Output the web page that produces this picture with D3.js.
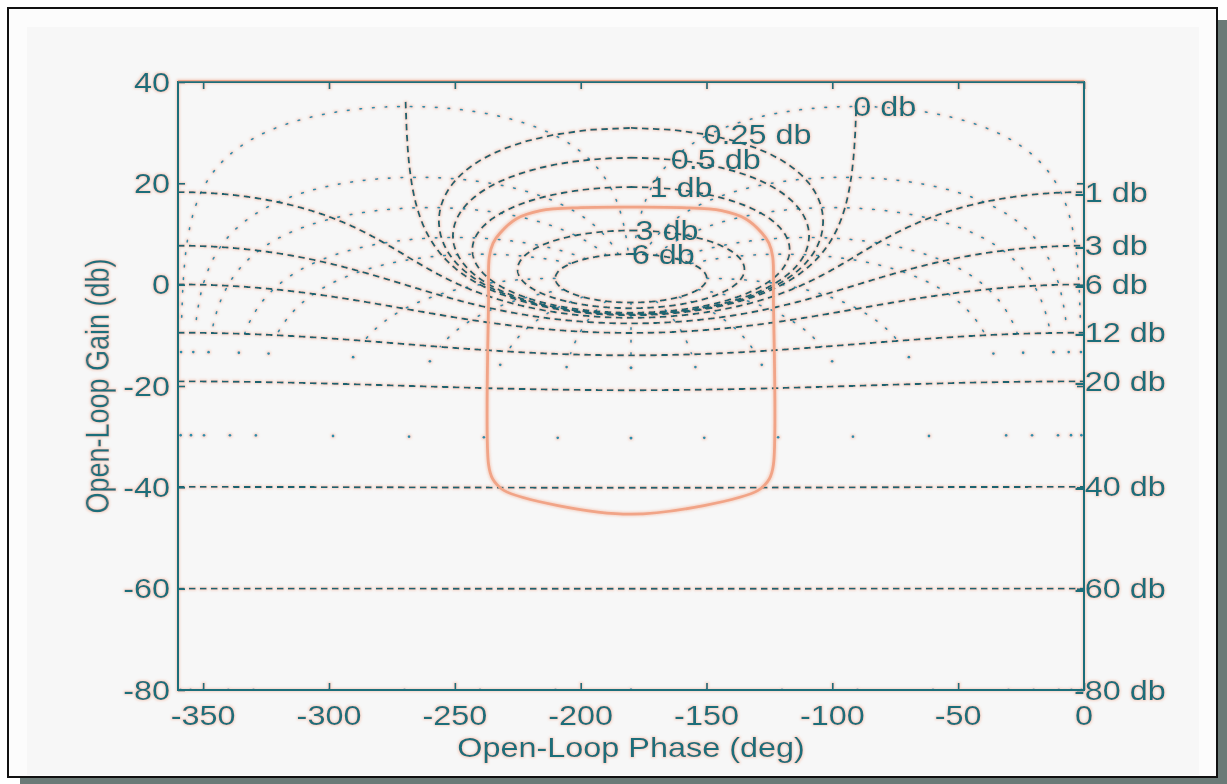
<!DOCTYPE html>
<html>
<head>
<meta charset="utf-8">
<script src="https://cdn.jsdelivr.net/npm/d3@7"></script>
<style>
  body { margin: 0; background: #ffffff; }
  svg { display: block; }
</style>
</head>
<body>
<script>
// ---- Nichols chart data ----
// closed-loop magnitude contours (dB), drawn dashed
const magLevels = [6, 3, 1, 0.5, 0.25, 0, -1, -3, -6, -12, -20, -40, -60, -80];
// closed-loop phase contours (deg), drawn dotted on both sides of -180
const phaseLevels = [1, 5, 10, 20, 30, 60, 90, 120, 150, 180];
// closed-loop magnitude span (dB) covered by the dotted phase contours
const phaseCurveMaxDb = 6;
const phaseCurveMinDb = -12;
// closed-loop magnitudes (dB) where the phase contours are marked by single dots
const phaseDotDb = [-15, -30, -80];

// labels placed on the upper part of the closed contours
const innerLabelDb = [6, 3, 1, 0.5, 0.25, 0];
const innerLabelPhase = [-178.5, -177, -171.5, -163, -150, -90.5];
const innerLabelText = ["6 db", "3 db", "1 db", "0.5 db", "0.25 db", "0 db"];
// labels at the right edge (phase 0)
const edgeLabelDb = [-1, -3, -6, -12, -20, -40, -60, -80];
const edgeLabelText = ["-1 db", "-3 db", "-6 db", "-12 db", "-20 db", "-40 db", "-60 db", "-80 db"];

// open-loop response drawn on the chart (phase deg, gain dB)
const respPhase = [-236.6, -236.6, -236.3, -234.8, -232.0, -225.5, -216.0, -200.0, -180.0, -160.0, -144.0, -134.5,
                   -128.0, -125.2, -123.7, -123.4, -123.4, -125.0, -129.5, -151.0, -180.0, -209.0, -230.5, -235.0];
const respGain  = [-35.5, -3.0, 5.5, 8.2, 10.2, 13.0, 14.6, 15.2, 15.3, 15.2, 14.6, 13.0,
                   10.2, 8.2, 5.5, -3.0, -35.5, -38.3, -40.6, -43.6, -45.3, -43.6, -40.6, -38.3];

// axis ticks
const xTicks = [-350, -300, -250, -200, -150, -100, -50, 0];
const yTicks = [40, 20, 0, -20, -40, -60, -80];

// ---- layout ----
const W = 1227, H = 784;
const plot = { left: 178, right: 1084, top: 82, bottom: 690 };
const teal = "#1f6e7a";
const gridDark = "#1d646f";
const dotBlue = "#2a90ad";
const orange = "#f1a487";
const font = "'Liberation Sans', Arial, Helvetica, sans-serif";
const fontSize = 27;
const stretch = 1.2;

const x = d3.scaleLinear().domain([-360, 0]).range([plot.left, plot.right]);
const y = d3.scaleLinear().domain([-80, 40]).range([plot.bottom, plot.top]);

const svg = d3.select("body").append("svg").attr("width", W).attr("height", H);

// page frame with drop shadow
svg.append("rect").attr("x", 20).attr("y", 20).attr("width", W - 20).attr("height", H - 20).attr("fill", "#6b7a77");
svg.append("rect").attr("x", 8).attr("y", 8).attr("width", 1209).attr("height", 769)
  .attr("fill", "#fcfcfc").attr("stroke", "#111").attr("stroke-width", 2);
svg.append("rect").attr("x", 27).attr("y", 27).attr("width", 1172).attr("height", 748).attr("fill", "#f7f7f7");

const defs = svg.append("defs");
defs.append("clipPath").attr("id", "plotClip").append("rect")
  .attr("x", plot.left).attr("y", plot.top)
  .attr("width", plot.right - plot.left).attr("height", plot.bottom - plot.top);

// soft warm fringe around the dark strokes and lettering
const halo = defs.append("filter").attr("id", "halo").attr("x", "-5%").attr("y", "-5%").attr("width", "110%").attr("height", "110%");
halo.append("feMorphology").attr("in", "SourceAlpha").attr("operator", "dilate").attr("radius", 1.2).attr("result", "grow");
halo.append("feGaussianBlur").attr("in", "grow").attr("stdDeviation", 1.2).attr("result", "soft");
halo.append("feFlood").attr("flood-color", "#f4b39a").attr("flood-opacity", 0.5).attr("result", "col");
halo.append("feComposite").attr("in", "col").attr("in2", "soft").attr("operator", "in").attr("result", "glow");
const mrg = halo.append("feMerge");
mrg.append("feMergeNode").attr("in", "glow");
mrg.append("feMergeNode").attr("in", "SourceGraphic");

const rad = Math.PI / 180;
const wrapPhase = p => ((p % 360) + 360) % 360 - 360;
// open-loop point G = 1 / w, returned as [phase deg, gain dB]
function fromW(wr, wi) {
  const r = Math.hypot(wr, wi);
  return [wrapPhase(-Math.atan2(wi, wr) / rad), -20 * Math.log10(r)];
}

// open-loop locus of constant closed-loop magnitude
function magContour(mdb) {
  const m = Math.pow(10, mdb / 20);
  const pts = [];
  if (Math.abs(mdb) < 1e-9) {
    for (let ph = -269.55; ph <= -90.45 + 1e-9; ph += 0.25) {
      const rho = -2 * Math.cos(ph * rad);
      pts.push([ph, -20 * Math.log10(rho)]);
    }
  } else if (m > 1) {
    for (let th = 0; th <= 360 + 1e-9; th += 0.5) {
      pts.push(fromW(-1 + Math.cos(th * rad) / m, Math.sin(th * rad) / m));
    }
  } else {
    for (let ph = -360; ph <= 0 + 1e-9; ph += 0.5) {
      const c = Math.cos(ph * rad);
      const rho = -c + Math.sqrt(c * c - 1 + 1 / (m * m));
      pts.push([ph, -20 * Math.log10(rho)]);
    }
  }
  return pts;
}
// gain of a magnitude contour at a given phase (upper branch)
function magGainAt(mdb, ph) {
  const m = Math.pow(10, mdb / 20);
  const c = Math.cos(ph * rad);
  let rho;
  if (Math.abs(mdb) < 1e-9) rho = -2 * c;
  else if (m > 1) rho = -c - Math.sqrt(c * c - 1 + 1 / (m * m));
  else rho = -c + Math.sqrt(c * c - 1 + 1 / (m * m));
  return -20 * Math.log10(rho);
}

// open-loop locus of constant closed-loop phase psi (left branch),
// limited to closed-loop magnitudes between minDb and maxDb
function phaseContour(psi, minDb, maxDb) {
  const pts = [];
  if (psi >= 180) {
    // G = -1 / (1 + t): straight down the -180 line
    const t0 = Math.pow(10, -maxDb / 20), t1 = Math.pow(10, -minDb / 20);
    for (let t = t0; t <= t1 + 1e-9; t += 0.02) pts.push([-180, -20 * Math.log10(1 + t)]);
    return pts;
  }
  const s = Math.sin(psi * rad);
  for (let ph = -180; ph > psi - 360; ph -= 0.2) {
    const beta = -ph;
    const r = -s / Math.sin((beta + psi) * rad);
    const wr = r * Math.cos(beta * rad), wi = r * Math.sin(beta * rad);
    const cdb = -20 * Math.log10(Math.hypot(wr + 1, wi));
    if (cdb > maxDb) continue;
    if (cdb < minDb) break;
    pts.push([ph, -20 * Math.log10(r)]);
  }
  return pts;
}
function phasePoint(psi, cdb) {
  const t = Math.pow(10, -cdb / 20);
  return fromW(-1 + t * Math.cos(psi * rad), -t * Math.sin(psi * rad));
}

const line = d3.line().x(d => x(d[0])).y(d => y(d[1]));

const chart = svg.append("g").attr("filter", "url(#halo)");
const plotG = chart.append("g").attr("clip-path", "url(#plotClip)");

// phase contours (dotted)
const phaseG = plotG.append("g").attr("fill", "none").attr("stroke", dotBlue)
  .attr("stroke-width", 1.7).attr("stroke-dasharray", "1.6,11").attr("stroke-linecap", "round");
phaseLevels.forEach(psi => {
  const left = phaseContour(psi, phaseCurveMinDb, phaseCurveMaxDb);
  if (left.length < 2) return;
  const right = left.map(d => [-360 - d[0], d[1]]);
  phaseG.append("path").attr("d", line(left));
  if (psi < 180) phaseG.append("path").attr("d", line(right));
});
const dotG = plotG.append("g").attr("fill", dotBlue);
phaseLevels.forEach(psi => {
  phaseDotDb.forEach(cdb => {
    const p = phasePoint(psi, cdb);
    [p, [-360 - p[0], p[1]]].forEach(q => {
      dotG.append("circle").attr("cx", x(q[0])).attr("cy", y(q[1])).attr("r", 1.4);
    });
  });
});

// magnitude contours (dashed)
const magG = plotG.append("g").attr("fill", "none").attr("stroke", gridDark)
  .attr("stroke-width", 1.9).attr("stroke-dasharray", "6.5,4.5");
magLevels.forEach(mdb => {
  magG.append("path").attr("d", line(magContour(mdb)));
});

// open-loop response
plotG.append("path")
  .attr("d", d3.line().x((d, i) => x(respPhase[i])).y((d, i) => y(respGain[i]))
    .curve(d3.curveCatmullRomClosed.alpha(0.5))(respPhase))
  .attr("fill", "none").attr("stroke", orange).attr("stroke-width", 2.8);

// axes: inward ticks on all four sides
const tickLen = -7;
const axisG = chart.append("g").attr("color", teal);
axisG.append("g").attr("transform", `translate(0,${plot.bottom})`)
  .call(d3.axisBottom(x).tickValues(xTicks).tickSize(tickLen).tickFormat(""));
axisG.append("g").attr("transform", `translate(0,${plot.top})`)
  .call(d3.axisTop(x).tickValues(xTicks).tickSize(tickLen).tickFormat(""));
axisG.append("g").attr("transform", `translate(${plot.left},0)`)
  .call(d3.axisLeft(y).tickValues(yTicks).tickSize(tickLen).tickFormat(""));
axisG.append("g").attr("transform", `translate(${plot.right},0)`)
  .call(d3.axisRight(y).tickValues(yTicks).tickSize(tickLen).tickFormat(""));
axisG.selectAll(".domain").remove();
axisG.selectAll(".tick line").attr("stroke-width", 1.8);
chart.append("rect").attr("x", plot.left).attr("y", plot.top)
  .attr("width", plot.right - plot.left).attr("height", plot.bottom - plot.top)
  .attr("fill", "none").attr("stroke", teal).attr("stroke-width", 2);
// warm edge along the top of the frame
chart.append("line").attr("x1", plot.left).attr("x2", plot.right)
  .attr("y1", plot.top - 1.3).attr("y2", plot.top - 1.3)
  .attr("stroke", "#f0a88e").attr("stroke-width", 1.2);

// text helper: horizontally widened lettering
const textG = chart.append("g").attr("fill", teal).attr("font-family", font).attr("font-size", fontSize);
function label(str, px, py, anchor, rot) {
  textG.append("text")
    .attr("transform", `translate(${px},${py}) scale(${stretch},1)` + (rot ? ` rotate(${rot})` : ""))
    .attr("text-anchor", anchor).attr("dominant-baseline", "central").text(str);
}

xTicks.forEach(v => label(String(v), x(v), 715, "middle"));
yTicks.forEach(v => label(String(v), plot.left - 8, y(v), "end"));
label("Open-Loop Phase (deg)", (plot.left + plot.right) / 2, 747, "middle");
label("Open-Loop Gain (db)", 97, (plot.top + plot.bottom) / 2, "middle", -90);

innerLabelDb.forEach((mdb, i) => {
  const ph = innerLabelPhase[i];
  label(innerLabelText[i], x(ph) - 3, y(magGainAt(mdb, ph)), "start");
});
edgeLabelDb.forEach((mdb, i) => {
  label(edgeLabelText[i], plot.right - 10, y(magGainAt(mdb, 0)), "start");
});
</script>
</body>
</html>
